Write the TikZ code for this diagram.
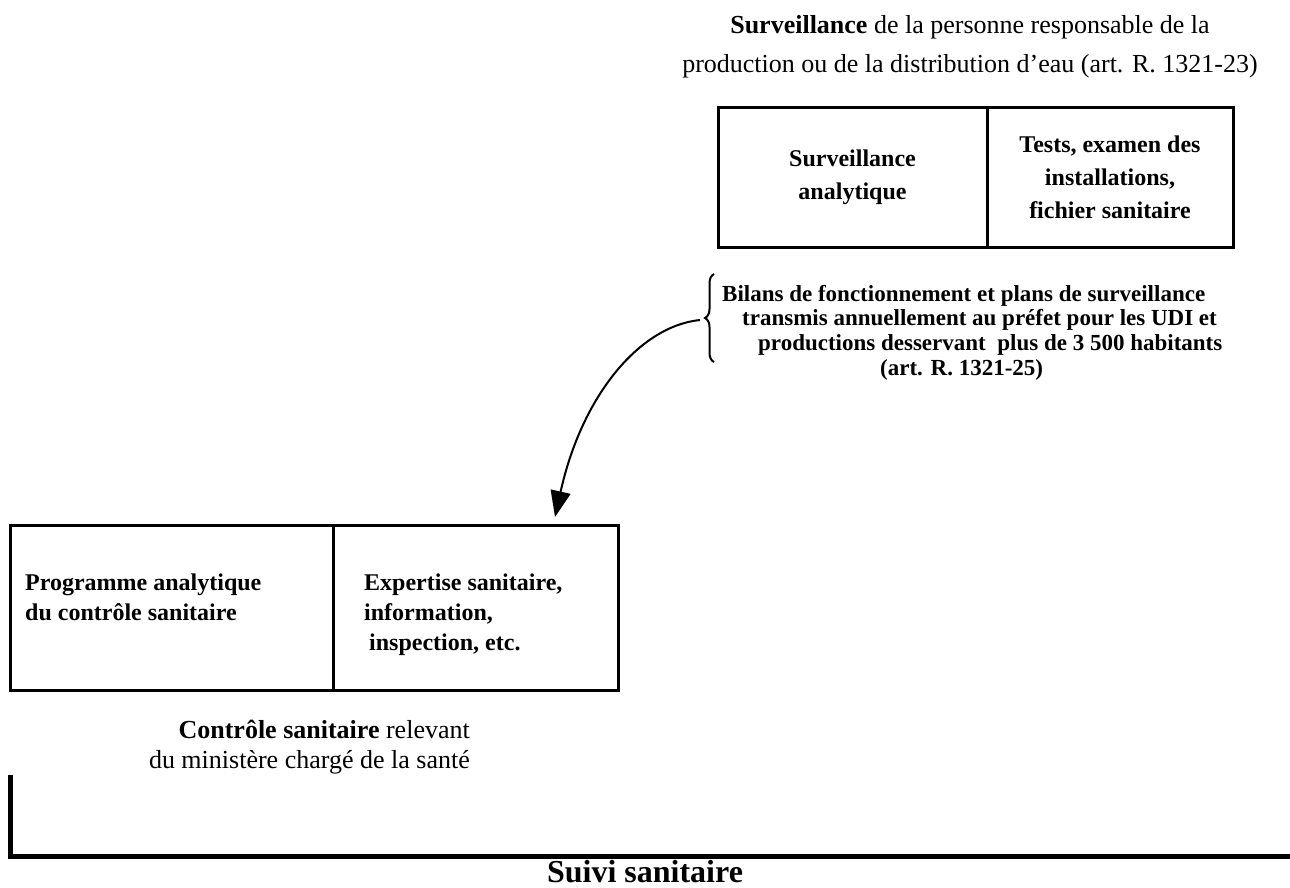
\documentclass[tikz,border=0pt]{standalone}
\usepackage{fontspec}
\setmainfont{Liberation Serif}
\usetikzlibrary{arrows.meta, decorations.pathreplacing, positioning}

\tikzset{
  cell/.style={draw, line width=3pt, inner sep=0pt, outer sep=0pt},
  boxtext/.style={font=\bfseries\fontsize{24}{33}\selectfont, inner sep=0pt},
  plaintext/.style={font=\fontsize{26}{30}\selectfont, inner sep=0pt},
  notetext/.style={font=\bfseries\fontsize{23}{24.5}\selectfont, inner sep=0pt, align=left},
  link/.style={line width=2pt, -{Triangle[length=26pt,width=20pt]}}
}

\begin{document}
\begin{tikzpicture}[x=1pt, y=-1pt]
  \useasboundingbox (0,0) rectangle (1290,887);

  % surveillance par la PRPDE
  \node[plaintext, anchor=base] (survtitle) at (970,33) {\textbf{Surveillance} de la personne responsable de la};
  \node[plaintext, anchor=base] (survtitleb) at (970,72) {production ou de la distribution d’eau (art. R. 1321-23)};

  \node[cell, anchor=north west, minimum width=269pt, minimum height=140pt] (survana) at (718,107) {};
  \node[cell, minimum width=246pt, minimum height=140pt, right=0pt of survana] (survtests) {};
  \node[boxtext, align=center] (survanatxt) at (survana.center) {Surveillance\\analytique};
  \node[boxtext, align=center] (survteststxt) at (survtests.center) {Tests, examen des\\installations,\\fichier sanitaire};

  % bilans transmis au prefet
  \draw[decorate, decoration={brace, amplitude=9pt}, line width=2pt] (714,362) -- (714,274);
  \node[notetext, anchor=base west] (bilans) at (722,350) {Bilans de fonctionnement et plans de surveillance\\\hspace*{20pt}transmis annuellement au préfet pour les UDI et\\\hspace*{36pt}productions desservant~ plus de 3 500 habitants};
  \node[notetext, anchor=base west] (bilansref) at (880,375) {(art. R. 1321-25)};
  \coordinate (bracetip) at (700,320);

  % controle sanitaire
  \node[cell, anchor=north west, minimum width=323pt, minimum height=165pt] (ctrlprog) at (10,525) {};
  \node[cell, minimum width=285pt, minimum height=165pt, right=0pt of ctrlprog] (ctrlexp) {};
  \node[boxtext, align=left, anchor=base west] (ctrlprogtxt) at (25,620) {Programme analytique\\[-3pt]du contrôle sanitaire};
  \node[boxtext, align=left, anchor=base west] (ctrlexptxt) at (364,650) {Expertise sanitaire,\\[-3pt]information,\\[-3pt]\hspace*{5pt}inspection, etc.};
  \coordinate (arrowend) at (555,517);

  \draw[link] (bracetip) .. controls (640,326) and (582,395) .. (arrowend);

  \node[plaintext, align=right, anchor=base east] (ctrltitle) at (470,768) {\textbf{Contrôle sanitaire} relevant\\du ministère chargé de la santé};

  % suivi sanitaire
  \coordinate (suivitop) at (10,775);
  \coordinate (suivicorner) at (10,856);
  \coordinate (suiviend) at (1290,856);
  \draw[line width=5pt] (suivitop) -- (suivicorner) -- (suiviend);
  \node[font=\bfseries\fontsize{32}{36}\selectfont, inner sep=0pt, anchor=base] (suivi) at (645,882) {Suivi sanitaire};
\end{tikzpicture}
\end{document}
